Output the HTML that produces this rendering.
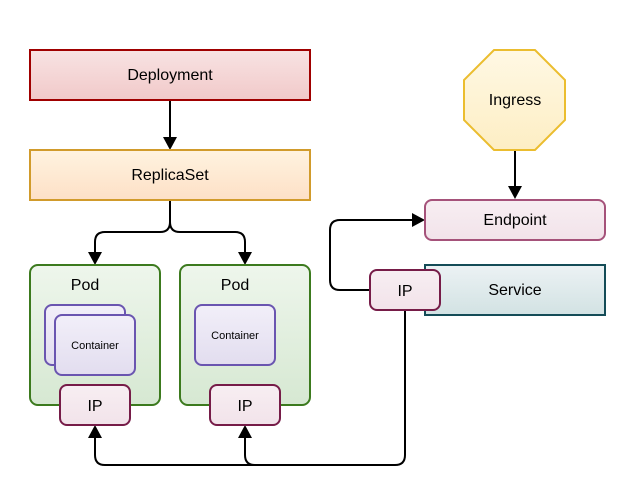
<!DOCTYPE html>
<html><head><style>body{margin:0;background:#fff}svg text{font-family:"Liberation Sans",Arial,sans-serif;fill:#000}</style></head>
<body>
<svg width="625" height="489" viewBox="0 0 625 489" xmlns="http://www.w3.org/2000/svg">
<defs>
<linearGradient id="gr" x1="0" y1="0" x2="0" y2="1"><stop offset="0" stop-color="#f8e3e3"/><stop offset="1" stop-color="#f1c9c9"/></linearGradient>
<linearGradient id="go" x1="0" y1="0" x2="0" y2="1"><stop offset="0" stop-color="#fff3e0"/><stop offset="1" stop-color="#fde0c6"/></linearGradient>
<linearGradient id="gg" x1="0" y1="0" x2="0" y2="1"><stop offset="0" stop-color="#eef6ec"/><stop offset="1" stop-color="#d6e8d2"/></linearGradient>
<linearGradient id="gp" x1="0" y1="0" x2="0" y2="1"><stop offset="0" stop-color="#f2eff9"/><stop offset="1" stop-color="#e2ddef"/></linearGradient>
<linearGradient id="gk" x1="0" y1="0" x2="0" y2="1"><stop offset="0" stop-color="#f7eef2"/><stop offset="1" stop-color="#f2e3ea"/></linearGradient>
<linearGradient id="gy" x1="0" y1="0" x2="0" y2="1"><stop offset="0" stop-color="#fff8e4"/><stop offset="1" stop-color="#fdeec4"/></linearGradient>
<linearGradient id="gt" x1="0" y1="0" x2="0" y2="1"><stop offset="0" stop-color="#ecf2f4"/><stop offset="1" stop-color="#d2e2e3"/></linearGradient>
</defs>
<g fill="none" stroke="#000" stroke-width="2">
<path d="M170 100V138"/>
<path d="M170 200V222Q170 232 160 232H105Q95 232 95 242V253"/>
<path d="M170 222Q170 232 180 232H235Q245 232 245 242V253"/>
<path d="M515 150V187"/>
<path d="M370 290H340Q330 290 330 280V230Q330 220 340 220H413"/>
<path d="M405 310V455Q405 465 395 465H105Q95 465 95 455V437"/>
<path d="M255 465Q245 465 245 455V437"/>
</g>
<g fill="#000">
<path d="M163 137L177 137L170 150Z"/>
<path d="M88 252L102 252L95 265Z"/>
<path d="M238 252L252 252L245 265Z"/>
<path d="M508 186L522 186L515 199Z"/>
<path d="M412 213L412 227L425 220Z"/>
<path d="M88 438L102 438L95 425Z"/>
<path d="M238 438L252 438L245 425Z"/>
</g>
<rect x="30" y="50" width="280" height="50" fill="url(#gr)" stroke="#a00000" stroke-width="2"/>
<text x="170" y="80" font-size="16" text-anchor="middle">Deployment</text>
<rect x="30" y="150" width="280" height="50" fill="url(#go)" stroke="#d19b2b" stroke-width="2"/>
<text x="170" y="180" font-size="16" text-anchor="middle">ReplicaSet</text>
<rect x="30" y="265" width="130" height="140" rx="8" fill="url(#gg)" stroke="#3c7a1e" stroke-width="2"/>
<rect x="180" y="265" width="130" height="140" rx="8" fill="url(#gg)" stroke="#3c7a1e" stroke-width="2"/>
<text x="85" y="290" font-size="16" text-anchor="middle">Pod</text>
<text x="235" y="290" font-size="16" text-anchor="middle">Pod</text>
<rect x="45" y="305" width="80" height="60" rx="7" fill="url(#gp)" stroke="#6a55b0" stroke-width="2"/>
<rect x="55" y="315" width="80" height="60" rx="7" fill="url(#gp)" stroke="#6a55b0" stroke-width="2"/>
<text x="95" y="349" font-size="11" text-anchor="middle">Container</text>
<rect x="195" y="305" width="80" height="60" rx="7" fill="url(#gp)" stroke="#6a55b0" stroke-width="2"/>
<text x="235" y="339" font-size="11" text-anchor="middle">Container</text>
<rect x="60" y="385" width="70" height="40" rx="7" fill="url(#gk)" stroke="#761c48" stroke-width="2"/>
<text x="95" y="411" font-size="16" text-anchor="middle">IP</text>
<rect x="210" y="385" width="70" height="40" rx="7" fill="url(#gk)" stroke="#761c48" stroke-width="2"/>
<text x="245" y="411" font-size="16" text-anchor="middle">IP</text>
<polygon points="494,50 535,50 565,80 565,120 535,150 494,150 464,120 464,80" fill="url(#gy)" stroke="#ebbd2f" stroke-width="2"/>
<text x="515" y="105" font-size="16" text-anchor="middle">Ingress</text>
<rect x="425" y="200" width="180" height="40" rx="7" fill="url(#gk)" stroke="#a5527a" stroke-width="2"/>
<text x="515" y="225" font-size="16" text-anchor="middle">Endpoint</text>
<rect x="425" y="265" width="180" height="50" fill="url(#gt)" stroke="#144c57" stroke-width="2"/>
<text x="515" y="295" font-size="16" text-anchor="middle">Service</text>
<rect x="370" y="270" width="70" height="40" rx="7" fill="url(#gk)" stroke="#761c48" stroke-width="2"/>
<text x="405" y="296" font-size="16" text-anchor="middle">IP</text>
</svg>
</body></html>
